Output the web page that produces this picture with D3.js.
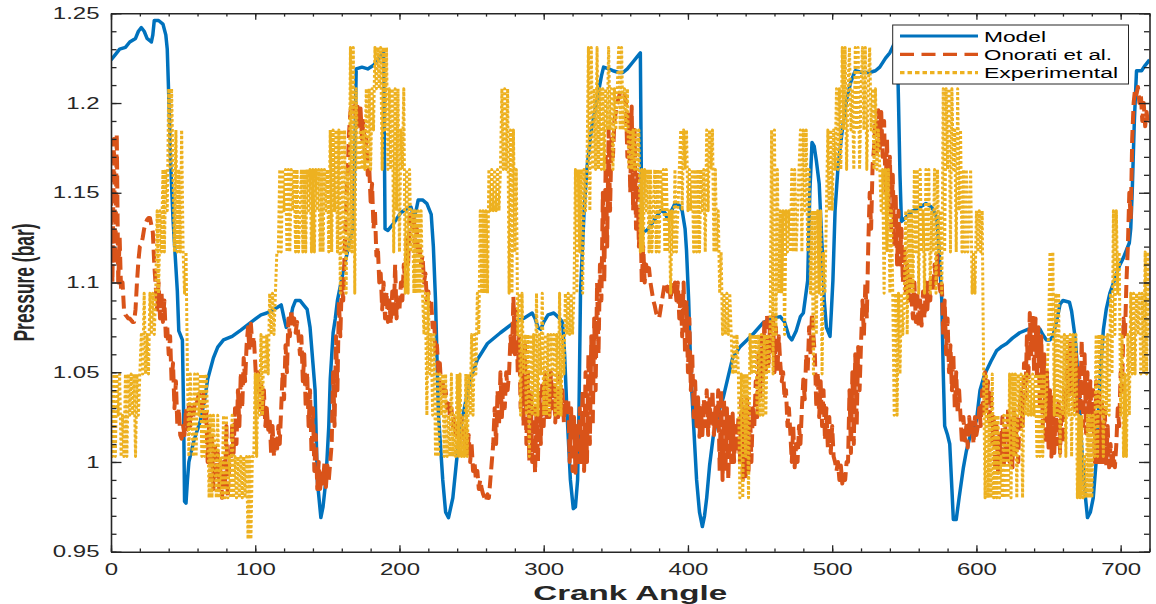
<!DOCTYPE html>
<html><head><meta charset="utf-8">
<script src="https://cdn.jsdelivr.net/npm/d3@7"></script>
<style>body{margin:0;background:#fff}svg{display:block}</style>
</head><body>
<svg id="chart" width="1156" height="604"></svg>
<script>
// ---- DATA ----
const seriesNames = ["Model", "Onorati et al.", "Experimental"];
const xTicks = [0, 100, 200, 300, 400, 500, 600, 700];
const xTickLabels = ["0", "100", "200", "300", "400", "500", "600", "700"];
const yTicks = [0.95, 1, 1.05, 1.1, 1.15, 1.2, 1.25];
const yTickLabels = ["0.95", "1", "1.05", "1.1", "1.15", "1.2", "1.25"];
const xLabel = "Crank Angle";
const yLabel = "Pressure (bar)";

// Model: [crank angle, pressure]
const modelPoints = [
[0,1.224],[3,1.227],[6,1.230],[10,1.231],[13,1.234],[17,1.236],[19,1.240],[21,1.242],[23,1.240],[25,1.236],[28,1.234],[29,1.238],[30,1.246],[33,1.246],[36,1.244],[38,1.238],[39,1.230],[40,1.205],[41.5,1.164],[43,1.135],[46,1.095],[47,1.073],[49.5,1.068],[50.3,1.03],[51,0.978],[52,0.977],[53,0.99],[54,1.0],[57.5,1.012],[62,1.023],[65,1.035],[67,1.046],[71,1.058],[74,1.064],[78,1.068],[84,1.070],[90,1.0735],[99,1.079],[104,1.082],[108,1.083],[113,1.085],[118,1.0875],[120,1.080],[121.5,1.075],[124,1.078],[126,1.086],[128,1.090],[131,1.090],[134,1.087],[136,1.085],[138,1.075],[140,1.055],[141.5,1.040],[143,0.990],[145.5,0.969],[147,0.975],[149,0.99],[151,1.02],[152,1.046],[154,1.072],[155.5,1.08],[157,1.09],[162,1.11],[166,1.125],[168,1.13],[169,1.17],[170,1.219],[174,1.22],[178,1.219],[182,1.221],[186,1.225],[189,1.229],[190,1.13],[192,1.129],[196,1.133],[201,1.139],[205,1.141],[208,1.142],[210,1.136],[211.5,1.14],[213,1.146],[216,1.146],[219,1.144],[222,1.138],[223.5,1.12],[225,1.09],[227,1.027],[230,0.99],[232,0.972],[234,0.969],[237,0.98],[239.5,1.0],[242,1.018],[245,1.03],[249,1.046],[254,1.057],[261,1.066],[270,1.072],[279,1.0775],[286,1.08],[292,1.083],[294,1.08],[296,1.075],[298,1.074],[300,1.078],[303,1.082],[307,1.083],[311,1.08],[313,1.078],[314.5,1.06],[316,1.03],[318.5,0.99],[320.5,0.974],[322,0.975],[323.5,0.99],[324.5,1.03],[325.5,1.094],[328,1.14],[330,1.164],[333,1.185],[337,1.202],[340,1.215],[341.5,1.22],[345,1.219],[348,1.218],[352,1.217],[355,1.217],[358,1.219],[362,1.223],[365,1.226],[367,1.228],[368,1.128],[371.5,1.129],[376,1.134],[381,1.14],[384,1.139],[386,1.135],[388,1.139],[391,1.144],[394,1.143],[396,1.14],[398,1.13],[399,1.118],[400.5,1.09],[402,1.05],[403.5,1.027],[406,0.99],[408,0.972],[410,0.964],[411.5,0.97],[413,0.98],[415,0.998],[417.5,1.014],[421,1.027],[424.5,1.036],[428,1.048],[431,1.058],[436,1.064],[441,1.068],[446,1.072],[452,1.0775],[458,1.08],[464,1.081],[467,1.078],[470,1.07],[472,1.068],[475,1.073],[478,1.081],[480,1.083],[483,1.101],[484.5,1.15],[486,1.178],[487.5,1.176],[489,1.168],[491,1.155],[493,1.12],[494.5,1.09],[496,1.075],[498.5,1.07],[499.5,1.085],[500.5,1.101],[502,1.14],[504,1.164],[507,1.185],[510,1.202],[513,1.212],[516,1.218],[521,1.217],[526,1.217],[530,1.218],[533,1.22],[537,1.225],[540,1.228],[543,1.233],[545,1.236],[546,1.2],[547,1.16],[548,1.134],[552,1.137],[556,1.14],[561,1.142],[565,1.144],[569,1.142],[571,1.139],[572.5,1.136],[574,1.12],[576,1.09],[577,1.05],[578,1.02],[580,1.015],[581.5,1.01],[583,0.985],[584,0.968],[586,0.968],[588,0.98],[591,0.997],[593,1.006],[595.5,1.014],[598,1.019],[600,1.023],[602.5,1.04],[605,1.047],[607,1.051],[610,1.056],[614,1.062],[617,1.064],[621,1.066],[625,1.069],[630,1.072],[636,1.074],[641.5,1.075],[644,1.074],[646,1.071],[648.5,1.068],[651,1.068],[653,1.07],[656,1.08],[658,1.088],[660,1.09],[664.5,1.089],[666,1.084],[668,1.072],[669,1.064],[671,1.04],[673,1.008],[675,0.985],[677,0.969],[679,0.972],[681,0.98],[683,1.0],[684.5,1.027],[686,1.05],[688,1.0735],[690,1.085],[692.5,1.094],[696,1.102],[699,1.109],[702,1.114],[706,1.122],[707,1.13],[708,1.15],[709.5,1.19],[711,1.218],[713,1.218],[714.5,1.218],[717,1.221],[720,1.224]
];

// Onorati et al.: one value per degree, 0..720
const onoratiPressure = [
1.15,1.10,1.18,1.11,1.183,1.10,1.125,1.095,1.10,1.085,
1.082,1.081,1.08,1.08,1.079,1.078,1.078,1.085,1.10,1.112,
1.12,1.121,1.125,1.13,1.133,1.135,1.136,1.136,1.132,1.128,
1.11,1.098,1.085,1.1,1.08,1.095,1.078,1.09,1.07,1.075,
1.06,1.07,1.045,1.055,1.03,1.045,1.02,1.03,1.015,1.013,
1.02,1.015,1.03,1.018,1.032,1.02,1.03,1.025,1.032,1.03,
1.035,1.038,1.034,1.03,1.038,1.02,1.03,1.0,1.02,0.99,
1.015,0.985,1.01,0.99,1.005,0.985,1.0,0.98,1.0,0.985,
1.02,0.98,1.0,1.0,1.02,1.005,1.03,1.01,1.04,1.02,
1.05,1.03,1.058,1.045,1.065,1.075,1.062,1.077,1.065,1.07,
1.055,1.04,1.05,1.03,1.045,1.025,1.04,1.02,1.03,1.018,
1.025,1.005,1.02,1.003,1.015,1.005,1.02,1.01,1.03,1.05,
1.035,1.065,1.05,1.08,1.07,1.085,1.075,1.08,1.072,1.078,
1.07,1.06,1.07,1.045,1.06,1.03,1.05,1.02,1.04,1.005,
1.03,0.995,1.015,0.985,1.0,0.985,0.995,0.988,1.0,0.986,
0.998,0.99,1.0,1.01,1.05,1.02,1.07,1.04,1.09,1.07,
1.1,1.09,1.118,1.14,1.16,1.183,1.195,1.2,1.2,1.198,
1.19,1.198,1.185,1.197,1.18,1.19,1.17,1.18,1.16,1.165,
1.145,1.155,1.13,1.14,1.115,1.12,1.1,1.105,1.085,1.1,
1.08,1.095,1.078,1.09,1.077,1.095,1.08,1.11,1.08,1.09,
1.085,1.1,1.09,1.11,1.1,1.125,1.11,1.135,1.139,1.13,
1.135,1.12,1.13,1.115,1.12,1.11,1.115,1.1,1.105,1.09,
1.095,1.085,1.09,1.075,1.08,1.06,1.065,1.05,1.055,1.04,
1.045,1.035,1.04,1.03,1.035,1.025,1.03,1.02,1.025,1.015,
1.02,1.01,1.02,1.025,1.02,1.008,1.02,1.005,1.015,1.0,
1.01,0.995,1.0,0.99,0.995,0.985,0.99,0.985,0.982,0.98,
0.978,0.982,0.98,0.99,1.0,1.01,1.03,1.01,1.04,1.02,
1.05,1.025,1.045,1.03,1.05,1.04,1.05,1.07,1.06,1.092,
1.06,1.085,1.05,1.07,1.03,1.06,1.02,1.065,1.01,1.05,
1.0,1.04,1.0,1.03,0.994,1.03,1.0,1.04,1.01,1.045,
1.02,1.05,1.025,1.045,1.025,1.05,1.03,1.045,1.022,1.04,
1.025,1.048,1.03,1.04,1.022,1.035,1.03,1.035,1.0,1.03,
0.995,1.025,0.994,1.02,1.0,1.03,1.0,1.04,0.995,1.05,
1.0,1.06,1.01,1.07,1.02,1.08,1.04,1.1,1.06,1.11,
1.09,1.15,1.10,1.17,1.12,1.185,1.14,1.18,1.17,1.19,
1.195,1.2,1.203,1.206,1.207,1.207,1.205,1.2,1.17,1.195,
1.15,1.198,1.14,1.185,1.13,1.16,1.12,1.14,1.1,1.12,
1.1,1.11,1.105,1.108,1.1,1.095,1.09,1.087,1.083,1.081,
1.08,1.085,1.09,1.095,1.1,1.098,1.095,1.1,1.09,1.1,
1.095,1.1,1.09,1.1,1.08,1.095,1.07,1.1,1.06,1.09,
1.05,1.08,1.04,1.06,1.025,1.045,1.02,1.036,1.014,1.03,
1.015,1.035,1.02,1.04,1.015,1.035,1.02,1.04,1.015,1.03,
1.02,1.04,0.995,1.04,0.99,1.035,0.995,1.03,0.99,1.025,
1.0,1.027,1.0,1.02,1.005,1.025,1.0,1.035,0.99,1.03,
0.992,1.036,0.995,1.03,1.0,1.03,1.02,1.045,1.025,1.06,
1.035,1.07,1.045,1.08,1.05,1.083,1.055,1.08,1.06,1.083,
1.05,1.075,1.05,1.07,1.055,1.045,1.05,1.035,1.04,1.02,
1.03,1.016,1.0,1.02,0.997,1.01,1.0,1.02,1.01,1.03,
1.046,1.035,1.06,1.05,1.075,1.06,1.083,1.07,1.06,1.03,
1.05,1.025,1.045,1.02,1.04,1.012,1.03,1.008,1.025,1.005,
1.02,1.003,1.0,0.995,1.0,0.99,0.998,0.988,0.995,0.99,
1.0,1.0,1.04,1.005,1.05,1.01,1.06,1.02,1.064,1.04,
1.066,1.09,1.07,1.1,1.08,1.12,1.15,1.13,1.165,1.175,
1.19,1.17,1.196,1.175,1.195,1.17,1.19,1.15,1.18,1.14,
1.17,1.13,1.16,1.12,1.15,1.11,1.14,1.11,1.13,1.1,
1.12,1.095,1.11,1.09,1.105,1.09,1.08,1.1,1.078,1.095,
1.075,1.09,1.076,1.095,1.08,1.1,1.085,1.1,1.09,1.105,
1.095,1.11,1.1,1.115,1.1,1.095,1.1,1.07,1.09,1.06,
1.08,1.05,1.065,1.04,1.06,1.03,1.05,1.027,1.04,1.025,
1.01,1.025,1.012,1.02,1.008,1.025,1.015,1.022,1.01,1.025,
1.015,1.02,1.03,1.02,1.04,1.025,1.05,1.03,1.045,1.02,
1.04,1.01,1.025,0.995,1.02,0.994,1.015,1.0,1.025,0.998,
1.02,1.0,1.03,1.0,1.025,0.997,1.03,1.005,1.025,1.0,
1.03,1.04,1.02,1.055,1.035,1.07,1.045,1.083,1.06,1.082,
1.05,1.08,1.046,1.075,1.03,1.07,1.02,1.06,1.01,1.05,
1.008,1.04,1.003,1.036,1.005,1.03,1.01,1.035,1.005,1.03,
1.01,1.04,1.03,1.06,1.035,1.068,1.04,1.065,1.03,1.06,
1.027,1.055,1.03,1.068,1.02,1.06,1.016,1.05,1.02,1.045,
1.018,1.04,1.0,1.045,0.998,1.04,1.0,1.035,1.0,1.03,
0.998,1.02,0.997,1.01,0.996,1.005,0.997,1.01,1.03,1.02,
1.05,1.04,1.08,1.07,1.1,1.12,1.15,1.135,1.18,1.2,
1.208,1.205,1.209,1.2,1.205,1.19,1.2,1.187,1.195,1.188,
1.19
];

// Experimental: one value per degree, 0..720 (quantized sensor readings)
const experimentalPressure = [
1.026,1.003,1.049,1.003,1.049,1.026,1.049,1.003,1.026,1.003,
1.049,1.003,1.049,1.026,1.049,1.026,1.049,1.003,1.049,1.026,
1.049,1.071,1.049,1.094,1.049,1.071,1.049,1.094,1.071,1.094,
1.071,1.094,1.140,1.094,1.140,1.117,1.163,1.117,1.163,1.140,
1.208,1.163,1.208,1.163,1.117,1.185,1.117,1.163,1.117,1.185,
1.117,1.094,1.117,1.049,1.003,1.049,1.026,1.003,1.049,1.003,
1.049,1.026,1.049,1.003,1.049,1.003,1.049,1.026,0.980,1.026,
0.980,1.026,1.003,0.980,1.026,0.980,1.003,0.980,1.026,0.980,
1.026,0.980,1.003,0.980,1.026,0.980,1.003,0.980,1.003,0.980,
1.003,0.980,1.003,0.980,1.003,0.957,1.003,0.957,1.003,1.003,
1.049,1.003,1.049,1.026,1.071,1.026,1.071,1.049,1.071,1.049,
1.094,1.071,1.094,1.071,1.094,1.117,1.117,1.163,1.117,1.163,
1.140,1.163,1.117,1.163,1.117,1.163,1.140,1.163,1.117,1.163,
1.117,1.140,1.163,1.117,1.163,1.117,1.163,1.140,1.163,1.117,
1.163,1.117,1.163,1.140,1.163,1.117,1.163,1.117,1.163,1.140,
1.163,1.117,1.185,1.117,1.185,1.140,1.185,1.117,1.185,1.094,
1.185,1.117,1.185,1.094,1.163,1.117,1.231,1.117,1.231,1.094,
1.208,1.163,1.163,1.185,1.163,1.185,1.163,1.208,1.163,1.208,
1.163,1.208,1.185,1.231,1.208,1.231,1.208,1.231,1.163,1.231,
1.185,1.231,1.163,1.208,1.163,1.208,1.117,1.208,1.140,1.208,
1.117,1.185,1.163,1.208,1.094,1.163,1.094,1.163,1.117,1.140,
1.094,1.140,1.094,1.140,1.094,1.140,1.094,1.071,1.094,1.026,
1.094,1.049,1.071,1.026,1.071,1.003,1.049,1.003,1.049,1.026,
1.049,1.003,1.049,1.003,1.026,1.003,1.049,1.003,1.026,1.003,
1.049,1.003,1.049,1.003,1.026,1.003,1.049,1.003,1.049,1.026,
1.071,1.026,1.071,1.049,1.094,1.071,1.140,1.094,1.140,1.094,
1.140,1.094,1.163,1.140,1.163,1.140,1.163,1.140,1.163,1.140,
1.163,1.208,1.163,1.208,1.163,1.208,1.094,1.185,1.094,1.185,
1.117,1.163,1.071,1.094,1.026,1.094,1.049,1.071,1.026,1.071,
1.003,1.071,1.026,1.071,1.026,1.094,1.026,1.071,1.049,1.094,
1.026,1.071,1.026,1.071,1.026,1.071,1.049,1.071,1.026,1.071,
1.026,1.094,1.026,1.071,1.049,1.094,1.071,1.094,1.071,1.094,
1.071,1.094,1.163,1.094,1.163,1.117,1.163,1.094,1.163,1.140,
1.163,1.231,1.140,1.231,1.163,1.208,1.163,1.231,1.163,1.208,
1.163,1.208,1.163,1.208,1.185,1.231,1.185,1.208,1.163,1.208,
1.185,1.208,1.231,1.185,1.231,1.185,1.208,1.185,1.208,1.163,
1.185,1.163,1.185,1.163,1.185,1.163,1.185,1.117,1.163,1.117,
1.163,1.140,1.163,1.117,1.163,1.117,1.140,1.163,1.117,1.163,
1.117,1.163,1.140,1.163,1.117,1.163,1.117,1.140,1.094,1.140,
1.117,1.163,1.117,1.140,1.163,1.185,1.140,1.185,1.163,1.185,
1.140,1.163,1.140,1.163,1.117,1.163,1.117,1.163,1.117,1.163,
1.140,1.163,1.117,1.185,1.140,1.185,1.163,1.185,1.117,1.163,
1.117,1.140,1.094,1.117,1.071,1.094,1.071,1.094,1.071,1.094,
1.071,1.049,1.071,1.049,1.071,1.049,0.980,1.049,0.980,1.049,
1.003,1.049,0.980,1.071,1.049,1.071,1.049,1.071,1.026,1.071,
1.026,1.071,1.026,1.071,1.026,1.071,1.049,1.071,1.185,1.049,
1.185,1.071,1.163,1.094,1.140,1.094,1.140,1.071,1.140,1.117,
1.140,1.117,1.163,1.117,1.163,1.117,1.140,1.163,1.185,1.117,
1.185,1.140,1.185,1.117,1.163,1.094,1.140,1.049,1.140,1.071,
1.140,1.094,1.140,1.049,1.117,1.094,1.140,1.185,1.140,1.185,
1.140,1.185,1.163,1.208,1.163,1.208,1.163,1.231,1.185,1.231,
1.163,1.208,1.231,1.185,1.208,1.163,1.231,1.185,1.231,1.163,
1.208,1.231,1.185,1.231,1.163,1.208,1.231,1.185,1.208,1.163,
1.208,1.163,1.185,1.163,1.140,1.163,1.094,1.163,1.117,1.163,
1.094,1.140,1.094,1.026,1.094,1.026,1.094,1.049,1.094,1.071,
1.094,1.140,1.071,1.140,1.094,1.140,1.094,1.163,1.117,1.163,
1.094,1.163,1.117,1.140,1.094,1.163,1.117,1.163,1.094,1.140,
1.117,1.163,1.094,1.163,1.117,1.140,1.094,1.208,1.117,1.208,
1.163,1.208,1.117,1.208,1.163,1.185,1.117,1.208,1.140,1.185,
1.117,1.163,1.117,1.163,1.117,1.140,1.163,1.094,1.117,1.094,
1.140,1.117,1.140,1.117,1.140,1.049,0.980,1.049,0.980,1.026,
0.980,1.049,0.980,1.026,0.980,1.026,0.980,1.003,0.980,1.026,
0.980,1.026,0.980,1.049,0.980,1.049,1.003,1.049,0.980,1.049,
1.026,1.049,0.980,1.049,1.026,1.049,1.026,1.049,1.026,1.049,
1.026,1.049,1.003,1.049,1.003,1.049,1.003,1.049,1.026,1.049,
1.071,1.117,1.071,1.117,1.026,1.094,1.026,1.094,1.003,1.071,
1.026,1.071,1.003,1.071,1.026,1.071,1.003,1.071,1.026,1.071,
0.980,1.026,0.980,1.026,0.980,1.003,0.980,1.026,0.980,1.026,
0.980,1.026,1.003,1.071,1.003,1.071,1.026,1.071,1.003,1.071,
1.026,1.071,1.026,1.094,1.049,1.140,1.071,1.140,1.094,1.117,
1.026,1.071,1.003,1.049,1.003,1.071,1.026,1.094,1.049,1.094,
1.049,1.094,1.071,1.094,1.049,1.094,1.049,1.117,1.049,1.117,
1.071
];
// sample angle (deg) for each entry of the two per-degree series
const sampleAngles = d3.range(0, 721, 1);

// ---- LAYOUT / STYLE ----
const L = 111, R = 1149.5, T = 13.3, B = 551.7;
const axisColor = "#262626";
const fontFam = "'Liberation Sans', Arial, Helvetica, sans-serif";
const styles = [
  {color: "#0072BD", width: 3.5, dash: null},
  {color: "#D95319", width: 4, dash: "13,6"},
  {color: "#EDB120", width: 3, dash: "2.8,2.2"}
];

const x = d3.scaleLinear().domain([0, 720]).range([L, R]);
const y = d3.scaleLinear().domain([0.95, 1.25]).range([B, T]);
const svg = d3.select("#chart");
svg.append("rect").attr("width", 1156).attr("height", 604).attr("fill", "#fff");

svg.append("defs").append("clipPath").attr("id", "plotClip").append("rect")
  .attr("x", L).attr("y", T - 1).attr("width", R - L).attr("height", B - T + 2);

const plot = svg.append("g").attr("clip-path", "url(#plotClip)");
const line = d3.line().x(d => x(d[0])).y(d => y(d[1]));

const seriesData = [
  modelPoints,
  sampleAngles.map((a, i) => [a, onoratiPressure[i]]),
  sampleAngles.map((a, i) => [a, experimentalPressure[i]])
];
seriesData.forEach((data, k) => {
  const p = plot.append("path").datum(data).attr("d", line)
    .attr("fill", "none").attr("stroke", styles[k].color)
    .attr("stroke-width", styles[k].width).attr("stroke-linejoin", "round");
  if (styles[k].dash) p.attr("stroke-dasharray", styles[k].dash);
});

// ---- AXES ----
function styleAxis(g, keepDomain) {
  if (keepDomain) g.select(".domain").attr("stroke", axisColor).attr("stroke-width", 1.6);
  else g.select(".domain").remove();
  g.selectAll(".tick line").attr("stroke", axisColor).attr("stroke-width", 1.3);
  g.selectAll("text").attr("fill", axisColor).style("font-family", fontFam).style("font-size", "16px");
}
const minorX = d3.range(0, 721, 20);
const minorY = d3.range(95, 126).map(v => v / 100);
const sx = 1.5;

// bottom
const gB = svg.append("g").attr("transform", `translate(0,${B})`)
  .call(d3.axisBottom(x).tickValues(xTicks).tickSizeInner(-6.5).tickSizeOuter(0).tickPadding(11.5)
    .tickFormat((d, i) => xTickLabels[i]));
styleAxis(gB, true);
gB.selectAll("text").attr("transform", `scale(${sx},1)`);
styleAxis(svg.append("g").attr("transform", `translate(0,${B})`)
  .call(d3.axisBottom(x).tickValues(minorX).tickSizeInner(-3.3).tickSizeOuter(0).tickFormat("")), false);
// top
styleAxis(svg.append("g").attr("transform", `translate(0,${T})`)
  .call(d3.axisTop(x).tickValues(xTicks).tickSizeInner(-6.5).tickSizeOuter(0).tickFormat("")), true);
styleAxis(svg.append("g").attr("transform", `translate(0,${T})`)
  .call(d3.axisTop(x).tickValues(minorX).tickSizeInner(-3.3).tickSizeOuter(0).tickFormat("")), false);
// left
const gL = svg.append("g").attr("transform", `translate(${L},0)`)
  .call(d3.axisLeft(y).tickValues(yTicks).tickSizeInner(-10.5).tickSizeOuter(0).tickPadding(11.5)
    .tickFormat((d, i) => yTickLabels[i]));
styleAxis(gL, true);
gL.selectAll("text").attr("x", -11.5 / sx).attr("transform", `scale(${sx},1)`);
styleAxis(svg.append("g").attr("transform", `translate(${L},0)`)
  .call(d3.axisLeft(y).tickValues(minorY).tickSizeInner(-5.5).tickSizeOuter(0).tickFormat("")), false);
// right
styleAxis(svg.append("g").attr("transform", `translate(${R},0)`)
  .call(d3.axisRight(y).tickValues(yTicks).tickSizeInner(-10.5).tickSizeOuter(0).tickFormat("")), true);
styleAxis(svg.append("g").attr("transform", `translate(${R},0)`)
  .call(d3.axisRight(y).tickValues(minorY).tickSizeInner(-5.5).tickSizeOuter(0).tickFormat("")), false);

// axis labels
svg.append("text").text(xLabel)
  .attr("x", (L + R) / 2).attr("y", 600).attr("text-anchor", "middle")
  .attr("textLength", 194).attr("lengthAdjust", "spacingAndGlyphs")
  .style("font-family", fontFam).style("font-weight", "bold").style("font-size", "21px")
  .attr("fill", axisColor);
svg.append("text").text(yLabel)
  .attr("transform", `translate(34,${(T + B) / 2}) scale(1.6,1) rotate(-90)`)
  .attr("text-anchor", "middle")
  .attr("textLength", 118).attr("lengthAdjust", "spacingAndGlyphs")
  .style("font-family", fontFam).style("font-weight", "bold").style("font-size", "18.5px")
  .attr("fill", axisColor);

// ---- LEGEND ----
const lg = svg.append("g");
lg.append("rect").attr("x", 892.7).attr("y", 25).attr("width", 235.8).attr("height", 59)
  .attr("fill", "#fff").attr("stroke", axisColor).attr("stroke-width", 1);
const legY = [36, 54.3, 72.7];
const legW = [62, 128, 134];
seriesNames.forEach((name, k) => {
  const ln = lg.append("line").attr("x1", 900).attr("x2", 978).attr("y1", legY[k]).attr("y2", legY[k])
    .attr("stroke", styles[k].color).attr("stroke-width", k === 0 ? 3 : 3.2);
  if (styles[k].dash) ln.attr("stroke-dasharray", k === 1 ? "14,7.5" : "4.5,3");
  lg.append("text").text(name).attr("x", 984).attr("y", legY[k] + 5.6)
    .attr("textLength", legW[k]).attr("lengthAdjust", "spacingAndGlyphs")
    .style("font-family", fontFam).style("font-size", "14px").attr("fill", "#000");
});
</script>
</body></html>
